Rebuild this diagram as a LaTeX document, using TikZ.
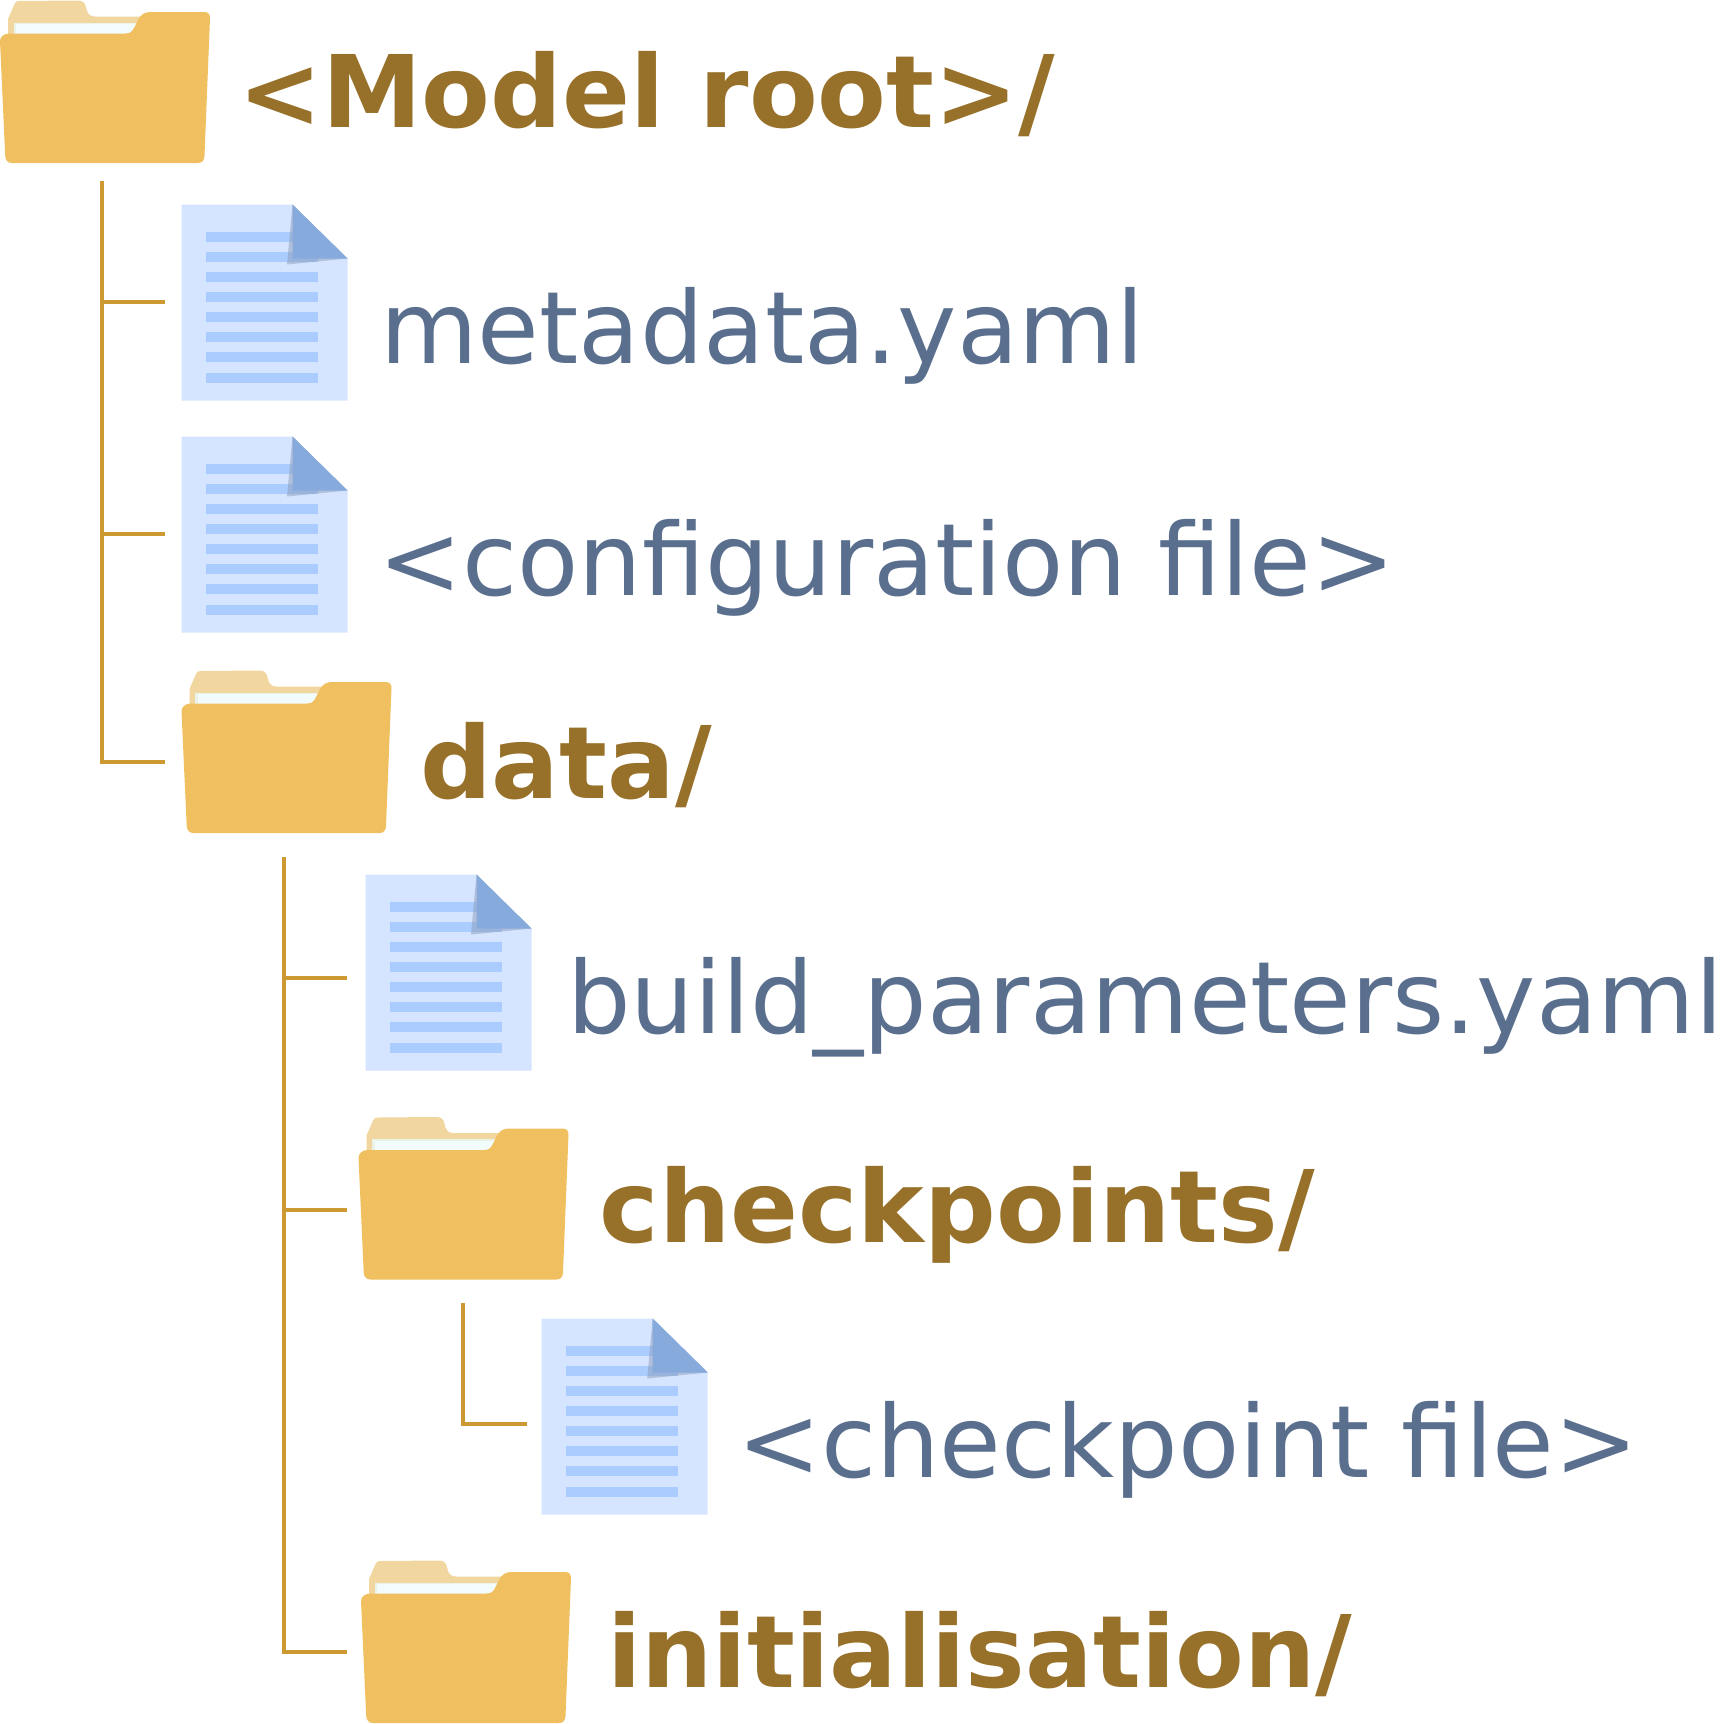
\documentclass[tikz,border=0pt]{standalone}
\usepackage{fontspec}
\setmainfont{DejaVu Sans}
\definecolor{folderfront}{HTML}{F0C060}
\definecolor{foldertab}{HTML}{F2D6A0}
\definecolor{folderpaper}{HTML}{F3FCFD}
\definecolor{folderedge}{HTML}{E9F3EA}
\definecolor{docpage}{HTML}{D5E5FF}
\definecolor{docline}{HTML}{AACCFF}
\definecolor{docfold}{HTML}{87AADD}
\definecolor{docshade}{HTML}{8C9BB8}
\definecolor{connector}{HTML}{CC9933}
\definecolor{dirtext}{HTML}{977029}
\definecolor{filetext}{HTML}{5A6F8E}
\tikzset{
  x=1pt,y=-1pt,
  iconbox/.style={inner sep=0pt,outer sep=0pt,anchor=north west},
  conn/.style={draw=connector,line width=4pt,line join=miter},
  dirlabel/.style={anchor=base west,inner sep=0pt,text=dirtext,font=\fontsize{100.2}{120}\selectfont\bfseries},
  filelabel/.style={anchor=base west,inner sep=0pt,text=filetext,font=\fontsize{100.2}{120}\selectfont},
  docicon/.pic={
    \node[iconbox,minimum width=166pt,minimum height=196pt] (-box) at (0,0) {};
    \fill[docpage] (0,0) -- (111,0) -- (166,54) -- (166,196) -- (0,196) -- cycle;
    \foreach \i in {0,...,7}
      \fill[docline] (24.7,27.3+20.1*\i) rectangle (136.7,37.3+20.1*\i);
    \fill[docshade,opacity=.5] (111,0) -- (105.5,60) -- (166,54) -- cycle;
    \fill[docfold] (111,0) -- (111,54) -- (166,54) -- cycle;
  },
  foldericon/.pic={
    \node[iconbox,minimum width=210pt,minimum height=163pt] (-box) at (0,0) {};
    \fill[foldertab] (8,40) -- (8,19) -- (14.5,4)
      .. controls (15.5,1.5) and (17,1) .. (19,1)
      -- (78,0.5) .. controls (83,0.5) and (85,3) .. (86,7)
      .. controls (87,13) and (89,16.5) .. (95,16.5)
      -- (150,16.5) -- (150,40) -- cycle;
    \fill[folderedge] (13.5,22.5) -- (140,22.5) -- (140,40) -- (13.5,40) -- cycle;
    \fill[folderpaper] (16,24) -- (140,24) -- (140,40) -- (16,40) -- cycle;
    \fill[folderfront] (0,41)
      .. controls (0,37) and (4,33.5) .. (9,33.5)
      -- (125,33.5) .. controls (130,33.5) and (132,32) .. (134,28)
      -- (138,20) .. controls (141,14) and (145,12) .. (151,12)
      -- (204,12) .. controls (208,12) and (210,14) .. (210,18)
      -- (204.5,156) .. controls (204.3,160.5) and (202,163) .. (198,163)
      -- (12,163) .. controls (8,163) and (5.5,160.5) .. (5.2,156)
      -- cycle;
  }
}
\begin{document}
\begin{tikzpicture}
\useasboundingbox (0,0) rectangle (1721,1724);
% icons
\pic (root) at (0,0) {foldericon};
\pic (meta) at (181.5,204.5) {docicon};
\pic (conf) at (181.5,436.5) {docicon};
\pic (data) at (181.5,670) {foldericon};
\pic (build) at (365.5,874.5) {docicon};
\pic (ckpt) at (358.5,1116.5) {foldericon};
\pic (ckptf) at (541.7,1318.5) {docicon};
\pic (init) at (361,1560) {foldericon};
% labels
\node[dirlabel] (lroot) at (238,127.5) {<Model root>/};
\node[filelabel] (lmeta) at (380,363) {metadata.yaml};
\node[filelabel] (lconf) at (378,595.5) {<configuration file>};
\node[dirlabel] (ldata) at (420,798) {data/};
\node[filelabel] (lbuild) at (567,1033) {build\_parameters.yaml};
\node[dirlabel] (lckpt) at (599.5,1242) {checkpoints/};
\node[filelabel] (lckptf) at (737,1477) {<checkpoint file>};
\node[dirlabel] (linit) at (607,1687) {initialisation/};
% connector ends
\coordinate (t1) at (101.5,181);
\coordinate (e1a) at (165,302);
\coordinate (e1b) at (165,533.5);
\coordinate (e1c) at (165,762);
\coordinate (t2) at (283.7,857);
\coordinate (e2a) at (347,978);
\coordinate (e2b) at (347,1210);
\coordinate (e2c) at (347,1652);
\coordinate (t3) at (463,1303);
\coordinate (e3a) at (527,1424);
% connectors
\draw[conn] (t1) |- (e1c);
\draw[conn] (t1 |- e1a) -- (e1a);
\draw[conn] (t1 |- e1b) -- (e1b);
\draw[conn] (t2) |- (e2c);
\draw[conn] (t2 |- e2a) -- (e2a);
\draw[conn] (t2 |- e2b) -- (e2b);
\draw[conn] (t3) |- (e3a);
\end{tikzpicture}
\end{document}
